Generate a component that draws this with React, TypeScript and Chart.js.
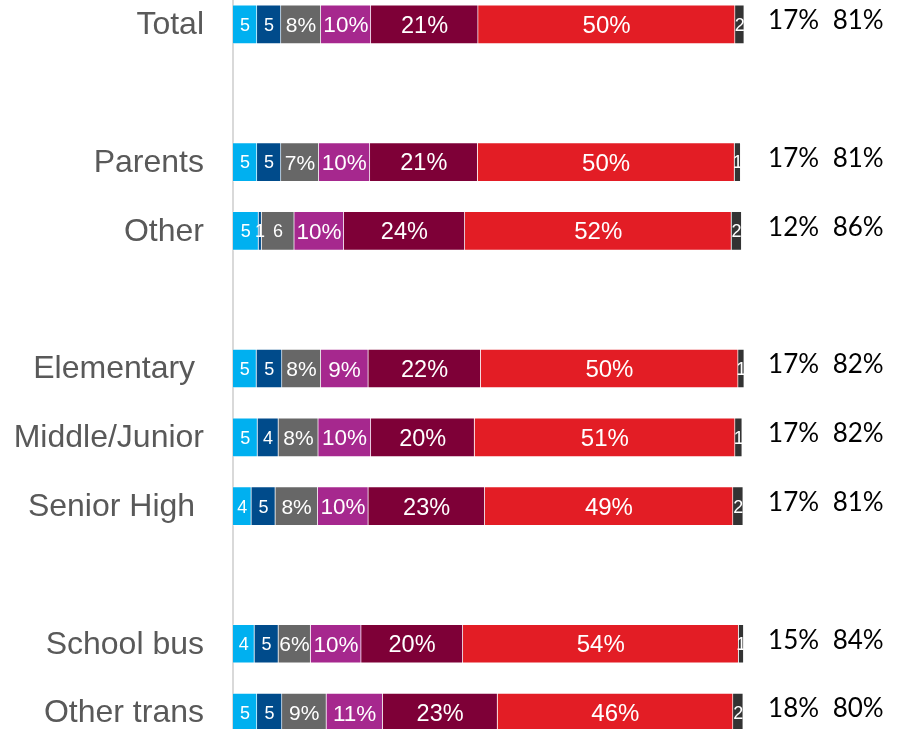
import React, { useEffect, useRef } from "react";
import { Chart, registerables } from "chart.js";

Chart.register(...registerables);

// Row labels (blank strings are spacer rows between groups)
const categories = [
  "Total",
  "",
  "Parents",
  "Other",
  "",
  "Elementary ",
  "Middle/Junior",
  "Senior High ",
  "",
  "School bus",
  "Other trans",
];

const seriesNames = ["Rating 1", "Rating 2", "Rating 3", "Rating 4", "Rating 5", "Rating 6", "No answer"];
const seriesColors = ["#00B0F0", "#004B8B", "#676767", "#A6288E", "#7E0037", "#E31D25", "#333333"];

// Percent values per series (null = spacer row)
const rating1 = [4.7, null, 4.7, 5.0, null, 4.6, 4.8, 3.6, null, 4.2, 4.7];
const rating2 = [4.7, null, 4.7, 0.6, null, 5.0, 4.1, 4.7, null, 4.7, 4.9];
const rating3 = [7.8, null, 7.4, 6.4, null, 7.6, 7.8, 8.3, null, 6.3, 8.7];
const rating4 = [9.8, null, 10.0, 9.7, null, 9.3, 10.3, 9.9, null, 9.9, 11.0];
const rating5 = [21.0, null, 21.1, 23.7, null, 22.0, 20.3, 22.8, null, 19.9, 22.5];
const rating6 = [50.3, null, 50.3, 52.2, null, 50.4, 51.0, 48.6, null, 54.0, 46.1];
const noAnswer = [1.8, null, 1.2, 2.0, null, 1.2, 1.4, 2.0, null, 1.0, 2.0];

// Summary columns at the right
const netLow = [17, null, 17, 12, null, 17, 17, 17, null, 15, 18];
const netHigh = [81, null, 81, 86, null, 82, 82, 81, null, 84, 80];

// Segments whose label is shown without the % sign despite its size
const plainLabelCells: [string, number][] = [["Other", 2]];

const seriesValues = [rating1, rating2, rating3, rating4, rating5, rating6, noAnswer];
const seriesFontSizes = [18, 18, 21, 22.5, 23.5, 24, 18];
const SMALL_FONT = 18;
const NET_LOW_X = 109.75; // in axis units
const NET_HIGH_X = 122.4;
const X_MAX = 130;

const labelPlugin = {
  id: "segmentLabels",
  afterDatasetsDraw(chart: any) {
    const ctx = chart.ctx as CanvasRenderingContext2D;
    const xScale = chart.scales.x;
    const yScale = chart.scales.y;
    const area = chart.chartArea;
    ctx.save();
    chart.data.datasets.forEach((ds: any, di: number) => {
      const meta = chart.getDatasetMeta(di);
      meta.data.forEach((bar: any, i: number) => {
        const v = ds.data[i];
        if (v == null) return;
        const { x, base, y } = bar.getProps(["x", "base", "y"], true);
        const left = Math.min(x, base);
        const right = Math.max(x, base);
        const rounded = Math.round(v);
        const isPlain =
          rounded < 6 || plainLabelCells.some(([c, s]) => c === categories[i] && s === di);
        const text = isPlain ? String(rounded) : `${rounded}%`;
        const size = isPlain ? SMALL_FONT : seriesFontSizes[di];
        let rowSum = 0;
        seriesValues.forEach((arr) => (rowSum += (arr[i] as number) || 0));
        const rowEnd = xScale.getPixelForValue(rowSum);
        ctx.save();
        ctx.beginPath();
        ctx.rect(area.left, y - 30, rowEnd - area.left, 60);
        ctx.clip();
        ctx.font = `${size}px "Liberation Sans", Arial, sans-serif`;
        ctx.fillStyle = "#FFFFFF";
        ctx.textAlign = "center";
        ctx.textBaseline = "alphabetic";
        ctx.fillText(text, (left + right) / 2, y + size * 0.358);
        ctx.restore();
      });
    });
    ctx.font = `26px Lato, "Liberation Sans", sans-serif`;
    ctx.fillStyle = "#000000";
    ctx.textAlign = "center";
    ctx.textBaseline = "alphabetic";
    categories.forEach((_, i) => {
      if (netLow[i] == null) return;
      const yc = yScale.getPixelForValue(i) - 4.5;
      ctx.fillText(`${netLow[i]}%`, xScale.getPixelForValue(NET_LOW_X), yc + 9.4);
      ctx.fillText(`${netHigh[i]}%`, xScale.getPixelForValue(NET_HIGH_X), yc + 9.4);
    });
    ctx.restore();
  },
};

export default function App() {
  const canvasRef = useRef<HTMLCanvasElement | null>(null);

  useEffect(() => {
    if (!canvasRef.current) return;
    const chart = new Chart(canvasRef.current, {
      type: "bar",
      data: {
        labels: categories,
        datasets: seriesValues.map((vals, k) => ({
          label: seriesNames[k],
          data: vals,
          backgroundColor: seriesColors[k],
          borderColor: "rgba(255,255,255,0.35)",
          borderWidth: 1,
          barThickness: 39,
        })),
      },
      options: {
        indexAxis: "y",
        animation: false,
        responsive: false,
        devicePixelRatio: 1,
        layout: { padding: { left: 0, right: 4, top: 0, bottom: 0 } },
        plugins: {
          legend: { display: false },
          tooltip: { enabled: false },
        },
        scales: {
          x: {
            type: "linear",
            stacked: true,
            min: 0,
            max: X_MAX,
            display: false,
          },
          y: {
            type: "category",
            stacked: true,
            offset: true,
            grid: { display: false, drawTicks: false },
            border: { display: true, color: "#D9D9D9", width: 2 },
            ticks: {
              autoSkip: false,
              padding: 29,
              labelOffset: 1,
              color: "#595959",
              font: { family: '"Liberation Sans", Arial, sans-serif', size: 32 },
            },
            afterFit(scale: any) {
              scale.width = 233;
              scale.paddingTop = 0;
              scale.paddingBottom = 0;
            },
          },
        },
      },
      plugins: [labelPlugin],
    });
    return () => chart.destroy();
  }, []);

  return (
    <div style={{ position: "fixed", left: 0, top: -10, width: 901, height: 757, background: "#FFFFFF" }}>
      <canvas ref={canvasRef} width={901} height={757} style={{ display: "block" }} />
    </div>
  );
}
